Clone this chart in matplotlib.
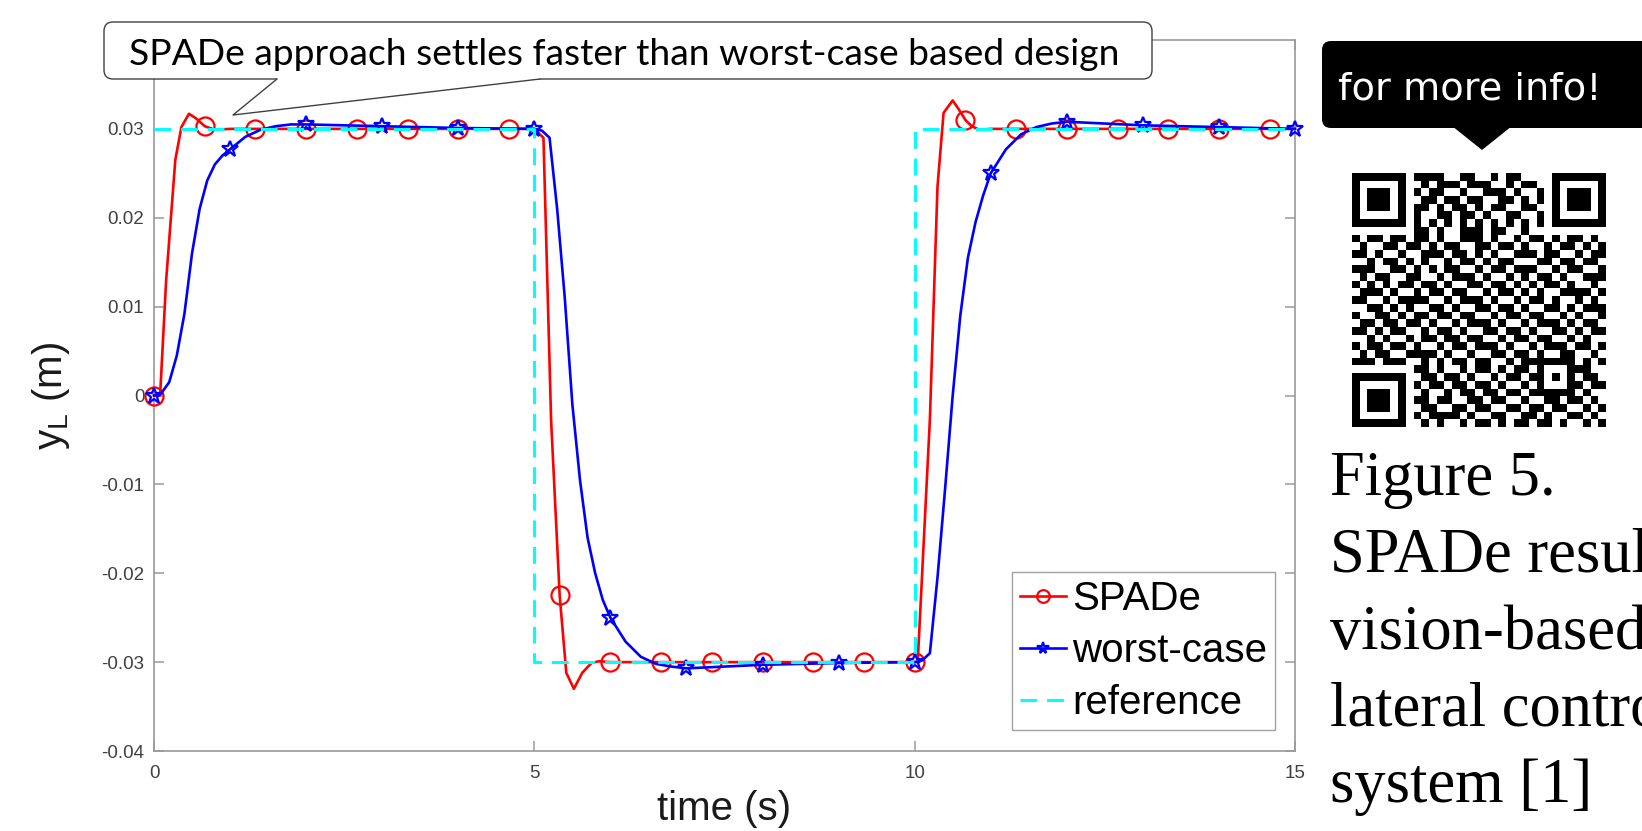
import matplotlib
matplotlib.use("Agg")
import matplotlib.pyplot as plt
import numpy as np
from matplotlib.patches import FancyBboxPatch, Polygon

# ---- data ----
spade_t = [0, 0.08, 0.16, 0.28, 0.36, 0.46, 0.55, 0.667, 0.8, 1.0, 1.333, 2.0,
           2.667, 3.333, 4.0, 4.667, 5.0, 5.12, 5.22, 5.333, 5.42, 5.52, 5.63,
           5.75, 5.85, 6.0, 6.667, 7.333, 8.0, 8.667, 9.333, 10.0, 10.04, 10.2,
           10.3, 10.38, 10.5, 10.58, 10.667, 10.75, 10.85, 11.0, 11.333, 12.0,
           12.667, 13.333, 14.0, 14.667, 15.0]
spade_y = [0, 0, 0.013, 0.0265, 0.0302, 0.0317, 0.0312, 0.0303, 0.0299, 0.0300,
           0.0300, 0.0300, 0.0300, 0.0300, 0.0300, 0.0300, 0.0300, 0.0290, -0.0027,
           -0.0225, -0.0312, -0.0330, -0.0312, -0.0301, -0.0299, -0.0300, -0.0300,
           -0.0300, -0.0300, -0.0300, -0.0300, -0.0300, -0.0300, -0.0027, 0.0235,
           0.0318, 0.0332, 0.0322, 0.0310, 0.0303, 0.0299, 0.0300, 0.0300, 0.0300,
           0.0300, 0.0300, 0.0300, 0.0300, 0.0300]
spade_marks = [0, 0.667, 1.333, 2.0, 2.667, 3.333, 4.0, 4.667, 5.333, 6.0, 6.667,
               7.333, 8.0, 8.667, 9.333, 10.0, 10.667, 11.333, 12.0, 12.667,
               13.333, 14.0, 14.667]

worst_t = [0, 0.1, 0.2, 0.3, 0.4, 0.5, 0.6, 0.7, 0.8, 0.9, 1.0, 1.2, 1.4, 1.6,
           1.8, 2.0, 3.0, 4.0, 5.0, 5.1, 5.2, 5.3, 5.4, 5.5, 5.6, 5.7, 5.8, 5.9,
           6.0, 6.2, 6.4, 6.6, 6.8, 7.0, 8.0, 9.0, 10.0, 10.1, 10.2, 10.3, 10.4,
           10.5, 10.6, 10.7, 10.8, 10.9, 11.0, 11.2, 11.4, 11.6, 11.8, 12.0, 13.0,
           14.0, 15.0]
worst_y = [0, 0.0003, 0.0015, 0.0045, 0.0092, 0.0160, 0.0210, 0.0242, 0.0260,
           0.0270, 0.0277, 0.0291, 0.0299, 0.0303, 0.0305, 0.0305, 0.0303, 0.0301,
           0.0300, 0.0298, 0.0290, 0.0210, 0.0110, -0.0010, -0.0095, -0.0160,
           -0.0200, -0.0230, -0.0250, -0.0277, -0.0294, -0.0302, -0.0305, -0.0307,
           -0.0303, -0.0301, -0.0300, -0.0298, -0.0290, -0.0205, -0.0105, 0.0000,
           0.0090, 0.0155, 0.0195, 0.0225, 0.0250, 0.0277, 0.0294, 0.0302, 0.0306,
           0.0308, 0.0304, 0.0302, 0.0300]
worst_marks = [0, 1.0, 2.0, 3.0, 4.0, 5.0, 6.0, 7.0, 8.0, 9.0, 10.0, 11.0, 12.0,
               13.0, 14.0, 15.0]

ref_t = [0, 5, 5, 10, 10, 15]
ref_y = [0.03, 0.03, -0.03, -0.03, 0.03, 0.03]

xticks = [0, 5, 10, 15]
yticks = [-0.04, -0.03, -0.02, -0.01, 0, 0.01, 0.02, 0.03]
ytick_labels = ["-0.04", "-0.03", "-0.02", "-0.01", "0", "0.01", "0.02", "0.03"]

callout_text = "SPADe approach settles faster than worst-case based design"
bubble_text = "for more info!"
caption_lines = ["Figure 5.", "SPADe results for", "vision-based",
                 "lateral control", "system [1]"]

# QR code body (33 x 33 modules, finder/alignment/timing stamped on top)
qr_rows = [
    "000000001111001100101100000000000",
    "000000000101110111001011000000000",
    "000000001011001001110100100000000",
    "000000000110110110011010100000000",
    "000000001101011010110011000000000",
    "000000001001101101001100100000000",
    "000000000000000000000000000000000",
    "000000001101001110110010000000000",
    "101101101101001110100101101011010",
    "010011011010110011011010010110101",
    "110100100111011010100111011001011",
    "001011010100101101011000110110110",
    "111001101010110010110111001011001",
    "010110011001011101001010110100111",
    "101010110110100110110101011010010",
    "011101001011011001011010100111101",
    "110010111100101110100101101001010",
    "001101010011010011011010011010111",
    "100110101101101100101101100101001",
    "011011011010010111010010111010110",
    "110101100101101001101101001101011",
    "001010010110110110010110110010100",
    "101101101001011011101001011101101",
    "010110011110100100110110100110010",
    "111011100101011011001011111110101",
    "000000001101001011010110100011100",
    "000000000110110100101101101010110",
    "000000001011011011010010100011011",
    "000000000100101101101101111110100",
    "000000001101100110110010011011010",
    "000000000110011011001101101100101",
    "000000001011110100110011010011010",
    "000000000101001011010110110100101",
]
finder = ["1111111", "1000001", "1011101", "1011101", "1011101", "1000001", "1111111"]
align = ["11111", "10001", "10101", "10001", "11111"]

W, H = 1642, 831
plt.rcParams["font.family"] = ["Liberation Sans", "DejaVu Sans"]
plt.rcParams["mathtext.default"] = "regular"

fig = plt.figure(figsize=(W / 100, H / 100), dpi=100)
fig.patch.set_facecolor("white")

ax = fig.add_axes([154 / W, 1 - 751 / H, (1295 - 154) / W, (751 - 40) / H])

spade_idx = [spade_t.index(v) for v in spade_marks]
worst_idx = [worst_t.index(v) for v in worst_marks]

ax.plot(spade_t, spade_y, color="#ff0000", lw=1.9, marker="o", ms=13,
        mfc="none", mec="#ff0000", mew=1.6, markevery=spade_idx,
        label="SPADe", clip_on=False, zorder=3)
ax.plot(worst_t, worst_y, color="#0000ff", lw=1.9, marker="*", ms=12,
        mfc="none", mec="#0000ff", mew=1.6, markevery=worst_idx,
        label="worst-case", clip_on=False, zorder=4)
ax.plot(ref_t, ref_y, color="#00ffff", lw=2.2, dashes=(5.5, 3.2),
        label="reference", zorder=5)

ax.set_xlim(0, 15)
ax.set_ylim(-0.04, 0.04)
ax.set_xticks(xticks)
ax.set_xticklabels([str(v) for v in xticks])
ax.set_yticks(yticks)
ax.set_yticklabels(ytick_labels)

for s in ax.spines.values():
    s.set_color("#9a9a9a")
    s.set_linewidth(1.2)
ax.tick_params(direction="in", length=7, width=1.1, color="#9a9a9a",
               top=True, right=True, labelsize=13.5, labelcolor="#404040")
ax.tick_params(axis="x", pad=10)
ax.tick_params(axis="y", pad=7)

ax.set_xlabel("time (s)", fontsize=29, color="#1a1a1a", labelpad=6)
ax.set_ylabel("y$_L$ (m)", fontsize=29, color="#1a1a1a")
ax.yaxis.set_label_coords(-0.072, 0.5)

leg = ax.legend(loc="upper left", bbox_to_anchor=(1012 / W, 1 - 572 / H),
                bbox_transform=fig.transFigure, fontsize=29, frameon=True,
                fancybox=False, borderaxespad=0, borderpad=0.2,
                handlelength=1.15, handletextpad=0.15, labelspacing=0.35,
                markerscale=0.7)
leg.get_frame().set_edgecolor("#8a8a8a")
leg.get_frame().set_linewidth(1.0)

# ---- overlay in pixel coordinates ----
ov = fig.add_axes([0, 0, 1, 1], zorder=10)
ov.axis("off")

# callout box with tail
box = FancyBboxPatch((104, 22), 1048, 57, boxstyle="round,pad=0,rounding_size=9",
                     fc="white", ec="#404040", lw=1.0)
ov.add_patch(box)
ov.add_patch(Polygon([(277, 76), (277, 79), (233, 115), (540, 79), (540, 76)],
                     closed=True, fc="white", ec="none"))
ov.plot([277, 233, 540], [79, 115, 79], color="#404040", lw=1.0)
ov.text(129, 65, callout_text, fontsize=26.8, family=["Lato", "DejaVu Sans"],
        va="baseline", ha="left", color="black")

# black "for more info!" bubble
bubble = FancyBboxPatch((1322, 41), 420, 87, boxstyle="round,pad=0,rounding_size=9",
                        fc="black", ec="none")
ov.add_patch(bubble)
ov.add_patch(Polygon([(1452, 126), (1482, 150), (1512, 126)], closed=True,
                     fc="black", ec="none"))
ov.text(1338, 100, bubble_text, fontsize=27.5, family=["DejaVu Sans"],
        color="white", va="baseline", ha="left")

# QR code
qr = np.array([[int(c) for c in row[:33].ljust(33, "0")] for row in qr_rows])
fp = np.array([[int(c) for c in r] for r in finder])
ap = np.array([[int(c) for c in r] for r in align])
for r0, c0 in [(0, 0), (0, 26), (26, 0)]:
    qr[max(r0 - 1, 0):r0 + 8, max(c0 - 1, 0):c0 + 8] = 0
    qr[r0:r0 + 7, c0:c0 + 7] = fp
qr[6, 8:25] = [(i + 1) % 2 for i in range(17)]
qr[8:25, 6] = [(i + 1) % 2 for i in range(17)]
qr[24:29, 24:29] = ap
ov.imshow(qr, cmap="gray_r", extent=(1352, 1606, 427, 173),
          interpolation="nearest", aspect="auto", vmin=0, vmax=1)

# caption
for i, line in enumerate(caption_lines):
    ov.text(1330, 495 + i * 76.8, line, fontsize=45,
            family=["Liberation Serif", "DejaVu Serif"], va="baseline",
            ha="left", color="black")

ov.set_xlim(0, W)
ov.set_ylim(H, 0)

fig.savefig("out.png", dpi=100)
